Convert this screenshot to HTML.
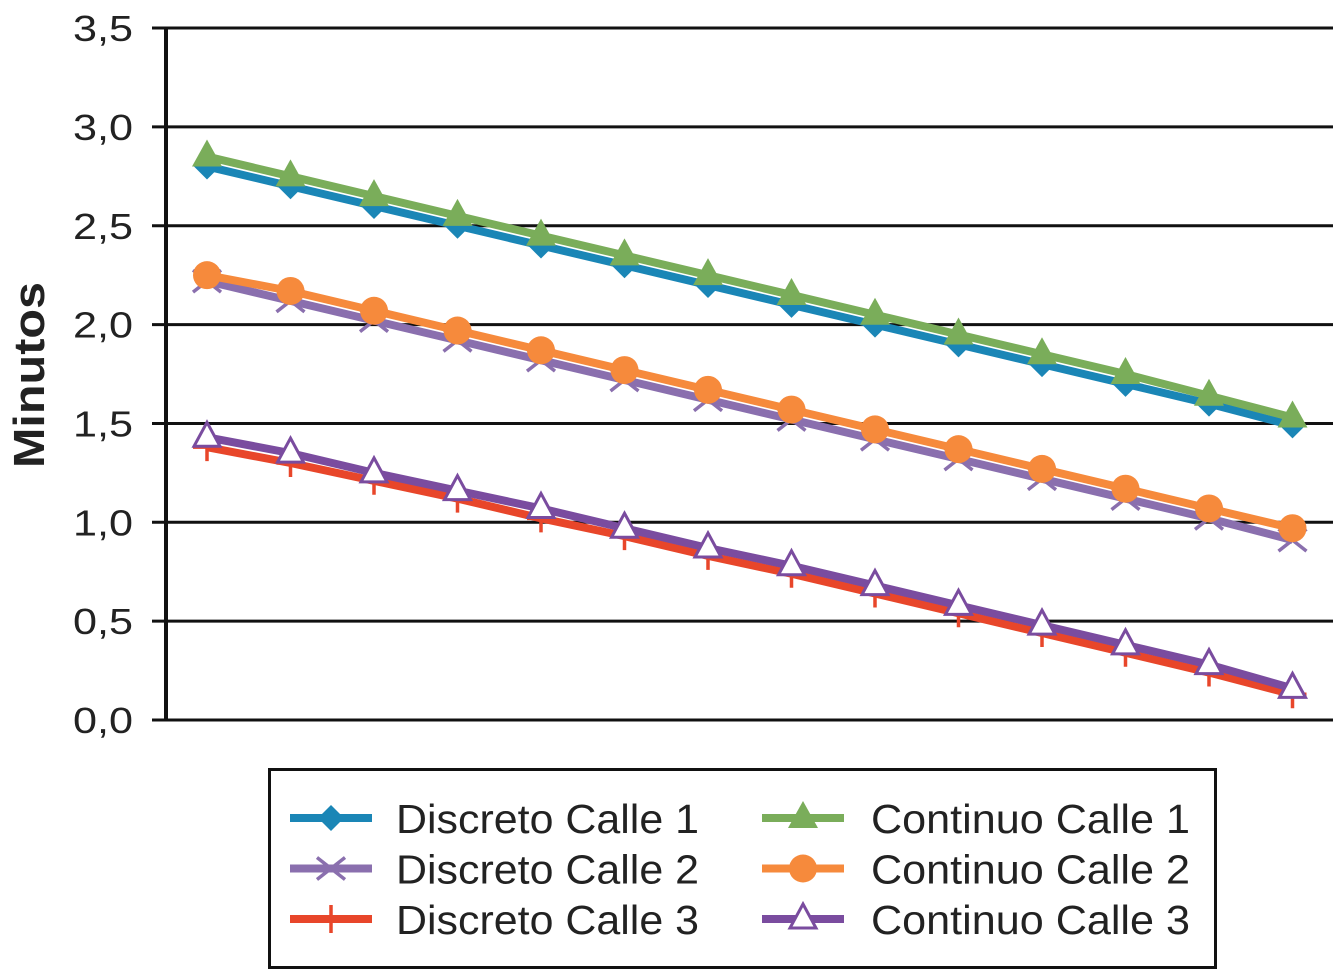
<!DOCTYPE html>
<html><head><meta charset="utf-8"><style>
body{margin:0;background:#fff}
svg{display:block;font-family:"Liberation Sans",Arial,sans-serif}
</style></head><body>
<svg id="c" width="1333" height="971" viewBox="0 0 1333 971"></svg>
<script>
const categories=[1,2,3,4,5,6,7,8,9,10,11,12,13,14];
const discreto1=[2.80,2.70,2.60,2.50,2.40,2.30,2.20,2.10,2.00,1.90,1.80,1.70,1.60,1.49];
const continuo1=[2.85,2.75,2.65,2.55,2.45,2.35,2.25,2.15,2.05,1.95,1.85,1.75,1.64,1.53];
const discreto2=[2.22,2.12,2.02,1.92,1.82,1.72,1.62,1.52,1.42,1.32,1.22,1.12,1.02,0.91];
const continuo2=[2.25,2.17,2.07,1.97,1.87,1.77,1.67,1.57,1.47,1.37,1.27,1.17,1.07,0.97];
const discreto3=[1.38,1.30,1.21,1.12,1.02,0.93,0.83,0.74,0.64,0.54,0.44,0.34,0.24,0.13];
const continuo3=[1.43,1.35,1.25,1.16,1.07,0.97,0.87,0.78,0.68,0.58,0.48,0.38,0.28,0.16];
const yTicks=["0,0","0,5","1,0","1,5","2,0","2,5","3,0","3,5"];
const NS="http://www.w3.org/2000/svg";
const svg=document.getElementById('c');
function el(t,a,p){const e=document.createElementNS(NS,t);for(const k in a)e.setAttribute(k,a[k]);(p||svg).appendChild(e);return e;}
const y=v=>720-v*197.7;
const x=i=>207+i*83.5;
yTicks.forEach((t,i)=>{
  const g=el('line',{x1:152,x2:1333,y1:y(i*0.5),y2:y(i*0.5),stroke:'#111','stroke-width':3});
  
  
  const tx=el('text',{x:133,y:y(i*0.5)+13,'text-anchor':'end','font-size':36,fill:'#222',textLength:60,lengthAdjust:'spacingAndGlyphs'});
  tx.textContent=t;
  
  
});
const ax=el('line',{x1:166,x2:166,y1:28,y2:721,stroke:'#111','stroke-width':4});


const yt=el('text',{x:0,y:0,transform:'translate(44,375) rotate(-90)','text-anchor':'middle','font-size':44,'font-weight':'bold',fill:'#222',textLength:186,lengthAdjust:'spacingAndGlyphs'});
yt.textContent='Minutos';


function marker(type,cx,cy,color,g){
  if(type==='diamond')el('polygon',{points:`${cx},${cy-13} ${cx+13},${cy} ${cx},${cy+13} ${cx-13},${cy}`,fill:color},g);
  else if(type==='tri')el('polygon',{points:`${cx},${cy-17} ${cx+15},${cy+10} ${cx-15},${cy+10}`,fill:color},g);
  else if(type==='otri')el('polygon',{points:`${cx},${cy-15} ${cx+13},${cy+9} ${cx-13},${cy+9}`,fill:'#fff',stroke:color,'stroke-width':3},g);
  else if(type==='circle')el('circle',{cx,cy,r:14,fill:color},g);
  else if(type==='x')el('path',{d:`M${cx-14},${cy-11}L${cx+14},${cy+11}M${cx-14},${cy+11}L${cx+14},${cy-11}`,stroke:color,'stroke-width':3.5},g);
  else if(type==='plus')el('path',{d:`M${cx-14},${cy}L${cx+14},${cy}M${cx},${cy-14}L${cx},${cy+14}`,stroke:color,'stroke-width':3.5},g);
}
const series=[
 {name:'Discreto Calle 1',data:discreto1,color:'#1a86b6',m:'diamond'},
 {name:'Discreto Calle 2',data:discreto2,color:'#8a6fae',m:'x'},
 {name:'Discreto Calle 3',data:discreto3,color:'#e8462a',m:'plus'},
 {name:'Continuo Calle 1',data:continuo1,color:'#7aad5a',m:'tri'},
 {name:'Continuo Calle 2',data:continuo2,color:'#f68a3c',m:'circle'},
 {name:'Continuo Calle 3',data:continuo3,color:'#7a4c9f',m:'otri'}
];
series.forEach(s=>{
  const g=el('g',{});
  
  
  el('polyline',{points:s.data.map((v,i)=>x(i)+','+y(v)).join(' '),fill:'none',stroke:s.color,'stroke-width':8},g);
  s.data.forEach((v,i)=>marker(s.m,x(i),y(v),s.color,g));
});
const lg=el('g',{});


el('rect',{x:269.5,y:769.5,width:946,height:198,fill:'#fff',stroke:'#111','stroke-width':3},lg);
series.forEach((s,i)=>{
  const col=i<3?0:1,row=i%3;
  const lx=col?762:290, tx=col?871:396, ly=818+row*50.5;
  const e=el('g',{},lg);
  
  
  el('line',{x1:lx,x2:lx+82,y1:ly,y2:ly,stroke:s.color,'stroke-width':8},e);
  marker(s.m,lx+41,ly,s.color,e);
  const t=el('text',{x:tx,y:ly+15,'font-size':41,fill:'#222',textLength:col?319:303,lengthAdjust:'spacingAndGlyphs'},e);
  t.textContent=s.name;
});
</script>
</body></html>
